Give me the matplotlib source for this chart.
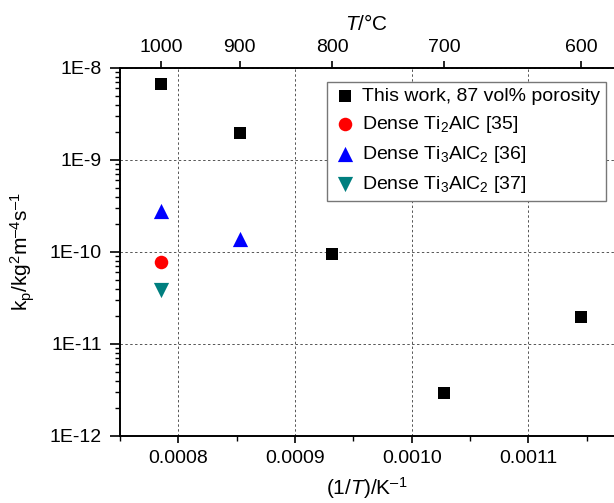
import numpy as np
import matplotlib
matplotlib.use("Agg")
import matplotlib.pyplot as plt
from matplotlib.ticker import FixedLocator, NullFormatter, LogLocator

plt.rcParams['font.family'] = ['Liberation Sans', 'DejaVu Sans']
plt.rcParams['mathtext.fontset'] = 'custom'
plt.rcParams['mathtext.rm'] = 'Liberation Sans'
plt.rcParams['mathtext.it'] = 'Liberation Sans:italic'
plt.rcParams['mathtext.default'] = 'regular'
plt.rcParams['axes.unicode_minus'] = False

# Data
this_T = [1000, 900, 800, 700, 600]             # degC
this_kp = [6.7e-9, 1.95e-9, 9.5e-11, 2.95e-12, 1.95e-11]
ti2alc_T = [1000]
ti2alc_kp = [7.8e-11]
ti3alc2_36_T = [1000, 900]
ti3alc2_36_kp = [2.8e-10, 1.4e-10]
ti3alc2_37_T = [1000]
ti3alc2_37_kp = [3.9e-11]

top_ticks_C = [1000, 900, 800, 700, 600]
bottom_ticks = [0.0008, 0.0009, 0.0010, 0.0011]
bottom_labels = ['0.0008', '0.0009', '0.0010', '0.0011']
y_ticks = [1e-8, 1e-9, 1e-10, 1e-11, 1e-12]
y_labels = ['1E-8', '1E-9', '1E-10', '1E-11', '1E-12']

def inv(tc):
    return 1.0 / (np.asarray(tc, dtype=float) + 273.15)

fig = plt.figure(figsize=(6.14, 5.03), dpi=100)
ax = fig.add_axes([120/614, 1-436/503, 1-120/614, (436-68)/503])

fs = 14
lfs = 15
ax.scatter(inv(this_T), this_kp, marker='s', s=80, color='black', zorder=3,
           label='This work, 87 vol% porosity', linewidths=0)
ax.scatter(inv(ti2alc_T), ti2alc_kp, marker='o', s=95, color='#ff0000', zorder=3,
           label='Dense Ti$_2$AlC [35]', linewidths=0)
ax.scatter(inv(ti3alc2_36_T), ti3alc2_36_kp, marker='^', s=120, color='#0000ff', zorder=3,
           label='Dense Ti$_3$AlC$_2$ [36]', linewidths=0)
ax.scatter(inv(ti3alc2_37_T), ti3alc2_37_kp, marker='v', s=120, color='#007f7f', zorder=3,
           label='Dense Ti$_3$AlC$_2$ [37]', linewidths=0)

ax.set_yscale('log')
ax.set_xlim(0.00075, 0.00075 + 494/1167000)
ax.set_ylim(1e-12, 1e-8)

ax.set_xticks(bottom_ticks)
ax.set_xticklabels(bottom_labels, fontsize=fs)
ax.xaxis.set_minor_locator(FixedLocator([0.00075, 0.00085, 0.00095, 0.00105, 0.00115]))
ax.set_yticks(y_ticks)
ax.set_yticklabels(y_labels, fontsize=fs)
ax.yaxis.set_minor_locator(LogLocator(base=10, subs=np.arange(2, 10), numticks=20))
ax.yaxis.set_minor_formatter(NullFormatter())

ax.tick_params(axis='both', which='major', direction='out', length=5, width=1.2, pad=5)
ax.tick_params(axis='y', which='major', length=7, pad=6)
ax.tick_params(axis='both', which='minor', direction='out', length=3.5, width=1)
ax.tick_params(top=False, right=False, which='both')

ax.grid(True, which='major', linestyle=(0, (2.5, 2.5)), color='#555555', linewidth=0.7)

for side in ['left', 'bottom', 'top']:
    ax.spines[side].set_linewidth(1.4)
ax.spines['right'].set_visible(False)

ax.set_xlabel('(1/$\\mathit{T}$)/K$^{\u2013 1}$', fontsize=lfs, labelpad=6)
ax.set_ylabel('k$_{p}$/kg$^{2}$m$^{\u20134}$s$^{\u20131}$', fontsize=lfs, labelpad=9)

ax2 = ax.twiny()
ax2.set_xlim(ax.get_xlim())
ax2.set_xticks(inv(top_ticks_C))
ax2.set_xticklabels([str(t) for t in top_ticks_C], fontsize=fs)
ax2.tick_params(axis='x', direction='out', length=5, width=1.2, pad=4)
ax2.set_xlabel('$\\mathit{T}$/°C', fontsize=lfs, labelpad=6)
for s in ax2.spines.values():
    s.set_visible(False)

leg = ax.legend(loc='upper right', bbox_to_anchor=((606-120)/494, (436-82)/368),
                borderaxespad=0, fontsize=fs, frameon=True, fancybox=False,
                edgecolor='#777777', framealpha=1, handletextpad=0.3,
                labelspacing=0.45, borderpad=0.3, handlelength=1.2,
                scatterpoints=1)
leg.get_frame().set_linewidth(1.0)
leg.set_zorder(5)

fig.savefig('out.png', dpi=100)
